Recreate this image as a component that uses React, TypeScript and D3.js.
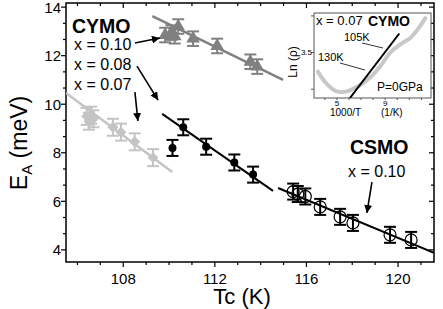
import React, { useEffect, useRef } from 'react';
import * as d3 from 'd3';

// CYMO x = 0.10 (gray triangles)
const cymo10Tc = [109.83, 110.1, 110.25, 110.4, 111.05, 112.1, 113.55, 113.85];
const cymo10Ea = [12.85, 12.95, 12.8, 13.2, 12.7, 12.4, 11.75, 11.55];
const cymo10Err = 0.3;

// CYMO x = 0.07 (light gray diamonds)
const cymo07Tc = [106.4, 106.5, 106.6, 106.7, 107.55, 107.9, 108.5, 109.3];
const cymo07Ea = [9.5, 9.3, 9.55, 9.4, 9.05, 8.85, 8.45, 7.8];
const cymo07Err = 0.35;

// CYMO x = 0.08 (black dots)
const cymo08Tc = [110.15, 110.62, 111.62, 112.85, 113.67];
const cymo08Ea = [8.2, 9.05, 8.25, 7.6, 7.1];
const cymo08Err = 0.33;

// CSMO x = 0.10 (open circles)
const csmo10Tc = [115.42, 115.62, 115.95, 116.6, 117.47, 118.03, 119.65, 120.57];
const csmo10Ea = [6.4, 6.3, 6.2, 5.77, 5.36, 5.11, 4.62, 4.41];
const csmo10Err = 0.33;

// linear fits [Tc, Ea] end points
const fit10 = [[109.27, 13.63], [114.98, 11.0]];
const fit07 = [[105.5, 10.46], [110.14, 7.21]];
const fit08 = [[109.7, 9.6], [114.54, 6.43]];
const fitCsmo = [[114.76, 6.55], [121.57, 3.88]];

// axes
const xTicks = d3.range(106, 122);
const xLabels = [108, 112, 116, 120];
const yLabels = [4, 6, 8, 10, 12, 14];
const yMinor = d3.range(4, 14.01, 2 / 3);

// inset: ln(rho) vs 1000/T
const insetX = [3.42, 4.17, 5.0, 5.83, 6.75, 7.75, 8.58, 9.42, 10.0, 10.5, 11.08, 11.67, 12.33];
const insetY = [3.24, 3.07, 2.97, 2.97, 3.04, 3.16, 3.31, 3.5, 3.58, 3.64, 3.7, 3.81, 3.97];
const insetFit = [[6.08, 2.88], [10.17, 3.76]];
const insetXLabels = [5, 9];
const insetXTicks = d3.range(4, 13);
const insetYTicks = [3.0, 3.5, 4.0];

// arrows [from, to] in data units
const arrows = [
  [[108.51, 12.52], [109.6, 12.73]],
  [[108.6, 11.57], [109.52, 10.17]],
  [[108.51, 10.5], [108.64, 9.31]],
  [[118.86, 6.79], [118.64, 5.52]],
];

const FONT = 'Arial, "Liberation Sans", Helvetica, sans-serif';

export default function App() {
  const ref = useRef<SVGSVGElement>(null);

  useEffect(() => {
    const svg = d3.select(ref.current);
    svg.selectAll('*').remove();
    svg.style('font-family', FONT);

    const box = { left: 66, right: 434, top: 3, bottom: 262 };
    const x = d3.scaleLinear().domain([105.5, 121.57]).range([box.left, box.right]);
    const y = d3.scaleLinear().domain([3.5, 14.17]).range([box.bottom, box.top]);

    svg.append('defs').append('marker')
      .attr('id', 'arr')
      .attr('markerUnits', 'userSpaceOnUse')
      .attr('markerWidth', 10).attr('markerHeight', 10)
      .attr('refX', 8).attr('refY', 4)
      .attr('orient', 'auto')
      .append('path').attr('d', 'M0,0 L8,4 L0,8 Z').attr('fill', '#000');

    svg.append('clipPath').attr('id', 'plotclip')
      .append('rect').attr('x', box.left).attr('y', box.top)
      .attr('width', box.right - box.left).attr('height', box.bottom - box.top);

    // frame
    svg.append('rect')
      .attr('x', box.left).attr('y', box.top)
      .attr('width', box.right - box.left).attr('height', box.bottom - box.top)
      .attr('fill', 'none').attr('stroke', '#000').attr('stroke-width', 1.5);

    const ticks = svg.append('g').attr('stroke', '#000').attr('stroke-width', 1.2);
    xTicks.forEach(t => {
      const len = xLabels.includes(t) ? 5 : 3;
      ticks.append('line').attr('x1', x(t)).attr('x2', x(t)).attr('y1', box.bottom).attr('y2', box.bottom + len);
      ticks.append('line').attr('x1', x(t)).attr('x2', x(t)).attr('y1', box.top).attr('y2', box.top + len);
    });
    yMinor.forEach(t => {
      const major = yLabels.some(v => Math.abs(v - t) < 1e-6);
      const len = major ? 5 : 3;
      ticks.append('line').attr('x1', box.left - len).attr('x2', box.left).attr('y1', y(t)).attr('y2', y(t));
      ticks.append('line').attr('x1', box.right - len).attr('x2', box.right).attr('y1', y(t)).attr('y2', y(t));
    });

    svg.append('g').selectAll('text').data(xLabels).join('text')
      .attr('x', d => x(d)).attr('y', 284)
      .attr('text-anchor', 'middle').attr('font-size', 15)
      .text(d => d);
    svg.append('g').selectAll('text').data(yLabels).join('text')
      .attr('x', 61).attr('y', d => y(d)).attr('dy', '0.36em')
      .attr('text-anchor', 'end').attr('font-size', 15)
      .text(d => d);

    svg.append('text')
      .attr('x', 242).attr('y', 304).attr('text-anchor', 'middle')
      .attr('font-size', 22).text('Tc (K)');

    const yl = svg.append('text')
      .attr('transform', 'translate(27,143) rotate(-90)')
      .attr('text-anchor', 'middle').attr('font-size', 23);
    yl.append('tspan').text('E');
    yl.append('tspan').attr('font-size', 15).attr('dy', 5).text('A');
    yl.append('tspan').attr('dy', -5).text(' (meV)');

    const plot = svg.append('g').attr('clip-path', 'url(#plotclip)');
    const line = d3.line<number[]>().x(d => x(d[0])).y(d => y(d[1]));

    const fitLine = (pts: number[][], color: string, w: number) => {
      plot.append('path').attr('d', line(pts)).attr('fill', 'none')
        .attr('stroke', color).attr('stroke-width', w);
    };
    fitLine(fit07, '#c4c4c4', 2.5);
    fitLine(fit10, '#808080', 2.5);
    fitLine(fit08, '#000', 2);
    fitLine(fitCsmo, '#000', 2);

    const errBars = (xs: number[], ys: number[], e: number, color: string) => {
      const g = plot.append('g').attr('stroke', color).attr('stroke-width', 2);
      xs.forEach((v, i) => {
        const cx = x(v), y1 = y(ys[i] - e), y2 = y(ys[i] + e);
        g.append('line').attr('x1', cx).attr('x2', cx).attr('y1', y1).attr('y2', y2);
        g.append('line').attr('x1', cx - 6).attr('x2', cx + 6).attr('y1', y1).attr('y2', y1);
        g.append('line').attr('x1', cx - 6).attr('x2', cx + 6).attr('y1', y2).attr('y2', y2);
      });
    };

    // x = 0.07 diamonds
    errBars(cymo07Tc, cymo07Ea, cymo07Err, '#c4c4c4');
    plot.append('g').selectAll('path').data(cymo07Tc).join('path')
      .attr('d', d3.symbol(d3.symbolSquare, 60)())
      .attr('transform', (d, i) => `translate(${x(d)},${y(cymo07Ea[i])}) rotate(45)`)
      .attr('fill', '#c4c4c4');

    // x = 0.10 triangles
    errBars(cymo10Tc, cymo10Ea, cymo10Err, '#808080');
    plot.append('g').selectAll('path').data(cymo10Tc).join('path')
      .attr('d', d3.symbol(d3.symbolTriangle, 80)())
      .attr('transform', (d, i) => `translate(${x(d)},${y(cymo10Ea[i])})`)
      .attr('fill', '#808080');

    // x = 0.08 dots
    errBars(cymo08Tc, cymo08Ea, cymo08Err, '#000');
    plot.append('g').selectAll('circle').data(cymo08Tc).join('circle')
      .attr('cx', d => x(d)).attr('cy', (d, i) => y(cymo08Ea[i])).attr('r', 4)
      .attr('fill', '#000');

    // CSMO open circles
    errBars(csmo10Tc, csmo10Ea, csmo10Err, '#000');
    plot.append('g').selectAll('circle').data(csmo10Tc).join('circle')
      .attr('cx', d => x(d)).attr('cy', (d, i) => y(csmo10Ea[i])).attr('r', 6)
      .attr('fill', 'none').attr('stroke', '#000').attr('stroke-width', 1.2);

    // arrows
    arrows.forEach(a => {
      svg.append('line')
        .attr('x1', x(a[0][0])).attr('y1', y(a[0][1]))
        .attr('x2', x(a[1][0])).attr('y2', y(a[1][1]))
        .attr('stroke', '#000').attr('stroke-width', 1.6)
        .attr('marker-end', 'url(#arr)');
    });

    // labels
    svg.append('text').attr('x', 72).attr('y', 33).attr('font-size', 19.5)
      .attr('font-weight', 'bold').text('CYMO');
    [['x = 0.10', 50], ['x = 0.08', 70], ['x = 0.07', 90]].forEach(([t, yy]) => {
      svg.append('text').attr('x', 74).attr('y', yy).attr('font-size', 16).text(t as string);
    });
    svg.append('text').attr('x', 350).attr('y', 154).attr('font-size', 19.5)
      .attr('font-weight', 'bold').text('CSMO');
    svg.append('text').attr('x', 348).attr('y', 177).attr('font-size', 16).text('x = 0.10');

    // inset
    const ib = { left: 314, right: 431, top: 13, bottom: 98 };
    const ix = d3.scaleLinear().domain([3.1, 12.8]).range([ib.left, ib.right]);
    const iy = d3.scaleLinear().domain([2.88, 4.04]).range([ib.bottom, ib.top]);

    svg.append('clipPath').attr('id', 'insetclip')
      .append('rect').attr('x', ib.left).attr('y', ib.top)
      .attr('width', ib.right - ib.left).attr('height', ib.bottom - ib.top);

    svg.append('rect')
      .attr('x', ib.left).attr('y', ib.top)
      .attr('width', ib.right - ib.left).attr('height', ib.bottom - ib.top)
      .attr('fill', '#fff').attr('stroke', '#555').attr('stroke-width', 1);

    const it = svg.append('g').attr('stroke', '#555').attr('stroke-width', 1);
    insetXTicks.forEach(t => {
      it.append('line').attr('x1', ix(t)).attr('x2', ix(t)).attr('y1', ib.bottom).attr('y2', ib.bottom + 2);
    });
    insetYTicks.forEach(t => {
      it.append('line').attr('x1', ib.left - 3).attr('x2', ib.left).attr('y1', iy(t)).attr('y2', iy(t));
    });
    svg.append('g').selectAll('text').data(insetXLabels).join('text')
      .attr('x', d => ix(d)).attr('y', 106).attr('text-anchor', 'middle')
      .attr('font-size', 8).text(d => d);
    svg.append('text').attr('x', 312).attr('y', iy(3.5)).attr('dy', '0.35em')
      .attr('text-anchor', 'end').attr('font-size', 8).text('3.5');
    svg.append('text').attr('x', 330).attr('y', 116).attr('font-size', 10).text('1000/T');
    svg.append('text').attr('x', 381).attr('y', 116).attr('font-size', 10).text('(1/K)');
    svg.append('text')
      .attr('transform', 'translate(297,62) rotate(-90)')
      .attr('text-anchor', 'middle').attr('font-size', 12).text('Ln (ρ)');

    const ig = svg.append('g').attr('clip-path', 'url(#insetclip)');
    const iline = d3.line<number>().x(d => ix(d)).y((d, i) => iy(insetY[i])).curve(d3.curveCatmullRom);
    ig.append('path').attr('d', iline(insetX)).attr('fill', 'none')
      .attr('stroke', '#c8c8c8').attr('stroke-width', 4).attr('stroke-linecap', 'round');
    ig.append('path')
      .attr('d', d3.line<number[]>().x(d => ix(d[0])).y(d => iy(d[1]))(insetFit))
      .attr('stroke', '#000').attr('stroke-width', 2).attr('fill', 'none');

    svg.append('text').attr('x', 316).attr('y', 25).attr('font-size', 13).text('x = 0.07');
    svg.append('text').attr('x', 368).attr('y', 26).attr('font-size', 14)
      .attr('font-weight', 'bold').text('CYMO');
    svg.append('text').attr('x', 344).attr('y', 41).attr('font-size', 11).text('105K');
    svg.append('text').attr('x', 318).attr('y', 61).attr('font-size', 11).text('130K');
    svg.append('line').attr('x1', 362).attr('y1', 43).attr('x2', 383).attr('y2', 48)
      .attr('stroke', '#000').attr('stroke-width', 0.8);
    svg.append('line').attr('x1', 340).attr('y1', 63).attr('x2', 365).attr('y2', 70)
      .attr('stroke', '#000').attr('stroke-width', 0.8);
    svg.append('text').attr('x', 377).attr('y', 91).attr('font-size', 12).text('P=0GPa');
  }, []);

  return (
    <div style={{ position: 'absolute', left: 0, top: 0 }}>
      <svg ref={ref} width={443} height={309} />
    </div>
  );
}
